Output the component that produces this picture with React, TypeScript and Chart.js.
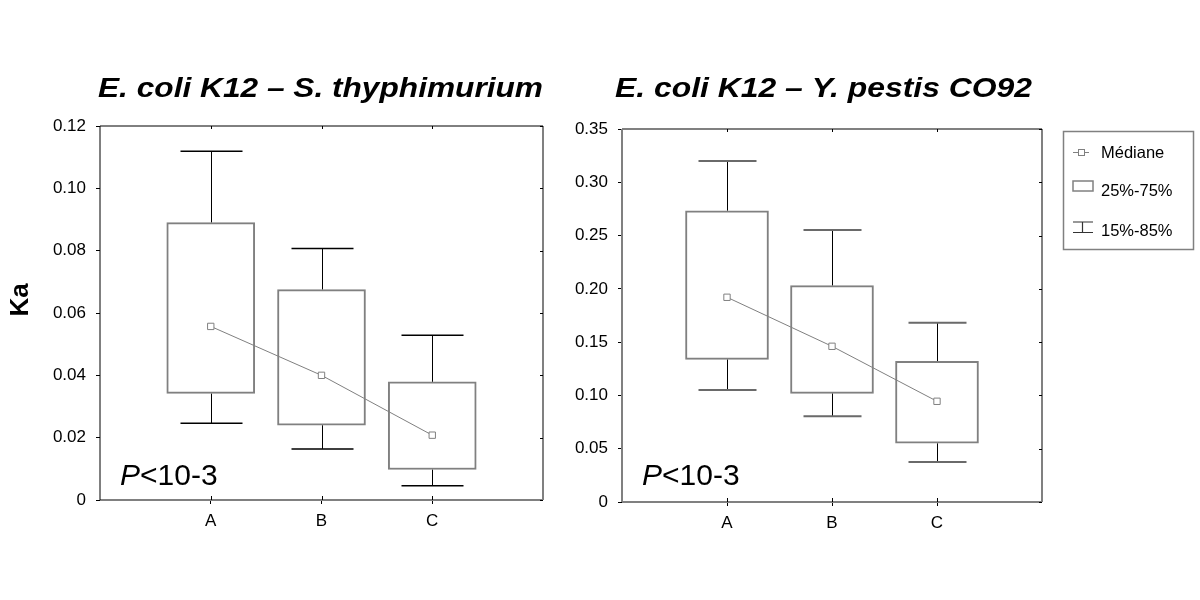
import React, { useEffect, useRef } from 'react';
import { Chart, registerables } from 'chart.js';
Chart.register(...registerables);

// ---------- data ----------
const categories = ['', 'A', 'B', 'C', ''];

const leftTitle = 'E. coli K12 – S. thyphimurium';
const leftP15 = [null, 0.0246, 0.0164, 0.0046, null];
const leftQ25 = [null, 0.0342, 0.024, 0.0098, null];
const leftMedian = [null, 0.0557, 0.04, 0.0208, null];
const leftQ75 = [null, 0.089, 0.0675, 0.0379, null];
const leftP85 = [null, 0.1119, 0.0807, 0.0529, null];
const leftTicks = [0, 0.02, 0.04, 0.06, 0.08, 0.1, 0.12];

const rightTitle = 'E. coli K12 – Y. pestis CO92';
const rightP15 = [null, 0.1051, 0.0804, 0.0375, null];
const rightQ25 = [null, 0.1339, 0.102, 0.0551, null];
const rightMedian = [null, 0.1921, 0.1461, 0.0945, null];
const rightQ75 = [null, 0.2733, 0.203, 0.132, null];
const rightP85 = [null, 0.32, 0.2552, 0.1682, null];
const rightTicks = [0, 0.05, 0.1, 0.15, 0.2, 0.25, 0.3, 0.35];

const yAxisTitle = 'Ka';
const pText = ['P', '<10-3'];
const legendLabels = ['Médiane', '25%-75%', '15%-85%'];

const FONT = '"Liberation Sans", Arial, sans-serif';
const GRAY = '#808080';

function fmt(v: number) {
  return v === 0 ? '0' : v.toFixed(2);
}

type Cfg = {
  offsetX: number;
  width: number;
  padding: { top: number; right: number; bottom: number; left: number };
  yWidth: number;
  xHeight: number;
  title: string;
  titleCenterX: number;
  titleWidth: number;
  ticks: number[];
  p15: (number | null)[];
  q25: (number | null)[];
  median: (number | null)[];
  q75: (number | null)[];
  p85: (number | null)[];
  boxWidth: number;
  capWidth: number;
  capColor: string;
  capLineWidth: number;
  frame: { left: string; top: string; right: string; bottom: string; lw: [number, number, number, number] };
  showYTitle: boolean;
  showLegend: boolean;
};

function makePlugin(cfg: Cfg) {
  return {
    id: 'boxExtras',
    beforeDatasetsDraw(chart: any) {
      const ctx = chart.ctx;
      const x = chart.scales.x;
      const y = chart.scales.y;
      ctx.save();
      categories.forEach((_, i) => {
        const lo = cfg.p15[i];
        const hi = cfg.p85[i];
        const q1 = cfg.q25[i];
        const q3 = cfg.q75[i];
        if (lo == null || hi == null || q1 == null || q3 == null) return;
        const cx = Math.round(x.getPixelForValue(i)) + 0.5;
        ctx.strokeStyle = '#000';
        ctx.lineWidth = 1;
        ctx.beginPath();
        ctx.moveTo(cx, y.getPixelForValue(hi));
        ctx.lineTo(cx, y.getPixelForValue(q3));
        ctx.moveTo(cx, y.getPixelForValue(q1));
        ctx.lineTo(cx, y.getPixelForValue(lo));
        ctx.stroke();
        ctx.strokeStyle = cfg.capColor;
        ctx.lineWidth = cfg.capLineWidth;
        ctx.beginPath();
        const hw = cfg.capWidth / 2;
        ctx.moveTo(cx - hw, y.getPixelForValue(hi));
        ctx.lineTo(cx + hw, y.getPixelForValue(hi));
        ctx.moveTo(cx - hw, y.getPixelForValue(lo));
        ctx.lineTo(cx + hw, y.getPixelForValue(lo));
        ctx.stroke();
      });
      ctx.restore();
    },
    afterDraw(chart: any) {
      const ctx = chart.ctx;
      const a = chart.chartArea;
      const x = chart.scales.x;
      const y = chart.scales.y;
      ctx.save();
      const side = (color: string, lw: number, x1: number, y1: number, x2: number, y2: number) => {
        ctx.strokeStyle = color;
        ctx.lineWidth = lw;
        ctx.beginPath();
        ctx.moveTo(x1, y1);
        ctx.lineTo(x2, y2);
        ctx.stroke();
      };
      const f = cfg.frame;
      side(f.top, f.lw[1], a.left, a.top, a.right, a.top);
      side(f.right, f.lw[2], a.right, a.top, a.right, a.bottom);
      side(f.bottom, f.lw[3], a.left, a.bottom, a.right, a.bottom);
      side(f.left, f.lw[0], a.left, a.top, a.left, a.bottom);
      ctx.strokeStyle = '#000';
      ctx.lineWidth = 1;
      ctx.beginPath();
      cfg.ticks.forEach((v) => {
        const py = Math.round(y.getPixelForValue(v)) + 0.5;
        ctx.moveTo(a.right - 3, py);
        ctx.lineTo(a.right, py);
      });
      categories.forEach((c, i) => {
        if (!c) return;
        const px = Math.round(x.getPixelForValue(i)) + 0.5;
        ctx.moveTo(px, a.top);
        ctx.lineTo(px, a.top + 3);
        ctx.moveTo(px, a.bottom);
        ctx.lineTo(px, a.bottom - 4);
      });
      ctx.stroke();

      // title
      ctx.fillStyle = '#000';
      ctx.font = `italic bold 28px ${FONT}`;
      ctx.textBaseline = 'alphabetic';
      ctx.textAlign = 'center';
      const w = ctx.measureText(cfg.title).width;
      const sx = cfg.titleWidth / w;
      ctx.save();
      ctx.translate(cfg.titleCenterX - cfg.offsetX, 97);
      ctx.scale(sx, 1);
      ctx.fillText(cfg.title, 0, 0);
      ctx.restore();

      // P<10-3
      ctx.textAlign = 'left';
      ctx.font = `italic 30px ${FONT}`;
      const px0 = a.left + 20;
      ctx.fillText(pText[0], px0, 485);
      const pw = ctx.measureText(pText[0]).width;
      ctx.font = `30px ${FONT}`;
      ctx.fillText(pText[1], px0 + pw, 485);

      if (cfg.showYTitle) {
        ctx.save();
        ctx.translate(21, 300);
        ctx.rotate(-Math.PI / 2);
        ctx.font = `bold 26px ${FONT}`;
        ctx.textAlign = 'center';
        ctx.textBaseline = 'middle';
        ctx.fillText(yAxisTitle, 0, 0);
        ctx.restore();
      }

      if (cfg.showLegend) {
        const ox = 1063 - cfg.offsetX;
        ctx.strokeStyle = GRAY;
        ctx.lineWidth = 1.5;
        ctx.strokeRect(ox + 0.5, 131.5, 130, 118);
        ctx.font = `16.5px ${FONT}`;
        ctx.textAlign = 'left';
        ctx.textBaseline = 'middle';
        ctx.fillStyle = '#000';
        const tx = 1101 - cfg.offsetX;
        ctx.fillText(legendLabels[0], tx, 153);
        ctx.fillText(legendLabels[1], tx, 191);
        ctx.fillText(legendLabels[2], tx, 231);
        const ix = 1073 - cfg.offsetX;
        ctx.strokeStyle = GRAY;
        ctx.lineWidth = 1;
        ctx.beginPath();
        ctx.moveTo(ix, 152.5);
        ctx.lineTo(ix + 16, 152.5);
        ctx.stroke();
        ctx.fillStyle = '#fff';
        ctx.fillRect(ix + 5, 149.5, 6, 6);
        ctx.strokeRect(ix + 5.5, 149.5, 6, 6);
        ctx.lineWidth = 1.5;
        ctx.strokeRect(ix, 181, 20, 10);
        ctx.strokeStyle = '#333';
        ctx.lineWidth = 1.2;
        ctx.beginPath();
        ctx.moveTo(ix, 222);
        ctx.lineTo(ix + 20, 222);
        ctx.moveTo(ix + 9.5, 222);
        ctx.lineTo(ix + 9.5, 232);
        ctx.moveTo(ix, 232.5);
        ctx.lineTo(ix + 20, 232.5);
        ctx.stroke();
      }
      ctx.restore();
    },
  };
}

function BoxChart({ cfg }: { cfg: Cfg }) {
  const ref = useRef<HTMLCanvasElement | null>(null);
  useEffect(() => {
    if (!ref.current) return;
    const boxes = categories.map((_, i) =>
      cfg.q25[i] == null || cfg.q75[i] == null ? null : [cfg.q25[i], cfg.q75[i]]
    );
    const chart = new Chart(ref.current, {
      type: 'bar',
      data: {
        labels: categories,
        datasets: [
          {
            type: 'line',
            data: cfg.median as any,
            borderColor: GRAY,
            borderWidth: 1,
            pointStyle: 'rect',
            pointRadius: 4.5,
            pointBackgroundColor: '#fff',
            pointBorderColor: GRAY,
            pointBorderWidth: 1,
            spanGaps: false,
            order: 0,
          } as any,
          {
            type: 'bar',
            data: boxes as any,
            backgroundColor: '#fff',
            borderColor: GRAY,
            borderWidth: 2,
            borderSkipped: false,
            barThickness: cfg.boxWidth,
            order: 1,
          } as any,
        ],
      },
      options: {
        responsive: false,
        animation: false,
        events: [],
        layout: { padding: cfg.padding },
        plugins: { legend: { display: false }, tooltip: { enabled: false }, title: { display: false } },
        scales: {
          x: {
            type: 'category',
            offset: false,
            grid: { display: true, offset: false, drawOnChartArea: false, drawTicks: true, tickLength: 4, color: (c: any) => (categories[c.index] ? '#000' : 'rgba(0,0,0,0)') },
            border: { display: false },
            ticks: { color: '#000', font: { family: FONT, size: 17 }, padding: 7, autoSkip: false, maxRotation: 0 },
            afterFit: (s: any) => {
              s.height = cfg.xHeight;
            },
          },
          y: {
            type: 'linear',
            min: cfg.ticks[0],
            max: cfg.ticks[cfg.ticks.length - 1],
            grid: { display: true, drawOnChartArea: false, drawTicks: true, tickLength: 4, color: '#000' },
            border: { display: false },
            afterBuildTicks: (s: any) => {
              s.ticks = cfg.ticks.map((v) => ({ value: v }));
            },
            ticks: {
              color: '#000',
              font: { family: FONT, size: 17 },
              padding: 10,
              callback: (v: any) => fmt(Number(v)),
            },
            afterFit: (s: any) => {
              s.width = cfg.yWidth;
            },
          },
        },
      },
      plugins: [makePlugin(cfg)],
    });
    return () => chart.destroy();
  }, [cfg]);
  return (
    <canvas
      ref={ref}
      width={cfg.width}
      height={600}
      style={{ position: 'absolute', left: cfg.offsetX, top: 0, width: cfg.width, height: 600 }}
    />
  );
}

const leftCfg: Cfg = {
  offsetX: 0,
  width: 560,
  padding: { top: 126, right: 17, bottom: 0, left: 0 },
  yWidth: 100,
  xHeight: 100,
  title: leftTitle,
  titleCenterX: 320.5,
  titleWidth: 445,
  ticks: leftTicks,
  p15: leftP15,
  q25: leftQ25,
  median: leftMedian,
  q75: leftQ75,
  p85: leftP85,
  boxWidth: 88,
  capWidth: 62,
  capColor: '#000',
  capLineWidth: 1.5,
  frame: { left: '#000', top: '#000', right: GRAY, bottom: GRAY, lw: [1, 1, 2, 2] },
  showYTitle: true,
  showLegend: false,
};

const rightCfg: Cfg = {
  offsetX: 560,
  width: 640,
  padding: { top: 129, right: 158, bottom: 0, left: 0 },
  yWidth: 62,
  xHeight: 98,
  title: rightTitle,
  titleCenterX: 823.5,
  titleWidth: 417,
  ticks: rightTicks,
  p15: rightP15,
  q25: rightQ25,
  median: rightMedian,
  q75: rightQ75,
  p85: rightP85,
  boxWidth: 83,
  capWidth: 58,
  capColor: '#6a6a6a',
  capLineWidth: 2,
  frame: { left: GRAY, top: GRAY, right: GRAY, bottom: GRAY, lw: [2, 2, 2, 2] },
  showYTitle: false,
  showLegend: true,
};

export default function App() {
  return (
    <div style={{ position: 'absolute', left: 0, top: 0, width: 1200, height: 600, background: '#fff' }}>
      <BoxChart cfg={leftCfg} />
      <BoxChart cfg={rightCfg} />
    </div>
  );
}
